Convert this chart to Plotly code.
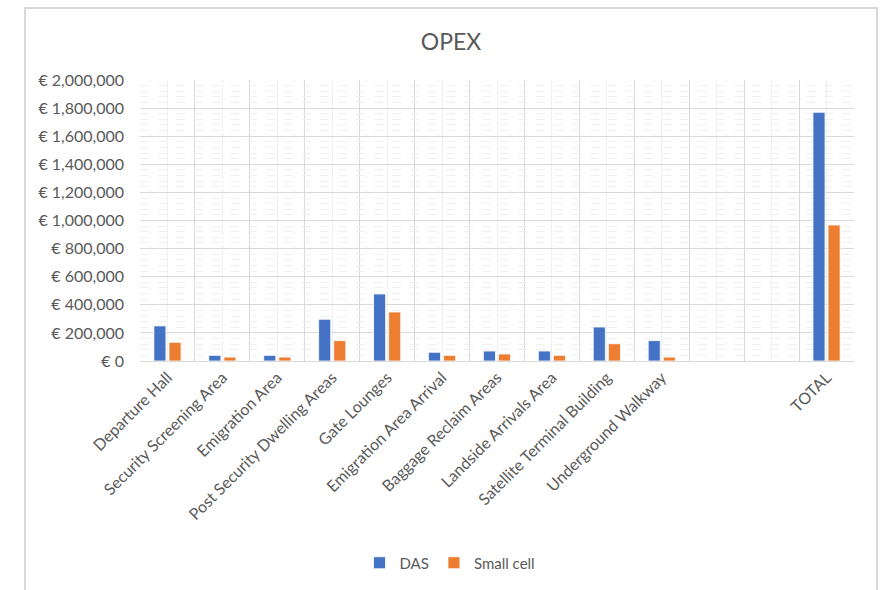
import plotly.graph_objects as go

categories = ["Departure Hall", "Security Screening Area", "Emigration Area",
              "Post Security Dwelling Areas", "Gate Lounges", "Emigration Area Arrival",
              "Baggage Reclaim Areas", "Landside Arrivals Area", "Satellite Terminal Building",
              "Underground Walkway", "", "", "TOTAL"]
das = [250000, 40000, 40000, 297000, 477000, 62000, 71000, 71000, 242000, 145000, None, None, 1770000]
small_cell = [133000, 28000, 28000, 145000, 349000, 40000, 50000, 40000, 123000, 28000, None, None, 968000]
series_names = ["DAS", "Small cell"]
colors = ["#4472C4", "#ED7D31"]

idx = list(range(len(categories)))
font_fam = "Lato, 'Open Sans', sans-serif"
txt = "#595959"

fig = go.Figure()
for name, vals, col in zip(series_names, [das, small_cell], colors):
    fig.add_trace(go.Bar(x=idx, y=vals, name=name, marker=dict(color=col, line=dict(color="white", width=0.8))))

W, H = 882, 590
L, R, T, B = 140, 28, 80, 229
pw, ph = W - L - R, H - T - B

def fx(px):
    return (px - L) / pw

def fy(py):
    return (H - B - py) / ph

fig.update_layout(
    width=W, height=H,
    margin=dict(l=L, r=R, t=T, b=B, autoexpand=False),
    paper_bgcolor="white", plot_bgcolor="white",
    font=dict(family=font_fam, color=txt, size=15),
    title=dict(text="OPEX", x=451 / W, xref="container", xanchor="center",
               y=1 - 42 / H, yref="container", yanchor="middle",
               font=dict(size=23, color=txt, family=font_fam)),
    barmode="group", bargap=0.45, bargroupgap=0.2,
    showlegend=True,
    legend=dict(orientation="h", x=fx(450), xref="paper", xanchor="center",
                y=fy(563), yref="paper", yanchor="middle", font=dict(size=15, color=txt),
                itemwidth=30, tracegroupgap=0),
    xaxis=dict(range=[-0.5, len(categories) - 0.5], tickmode="array", tickvals=idx,
               ticktext=categories, tickangle=-45, showgrid=True, gridcolor="#f0f0f0",
               gridwidth=1, zeroline=False, showline=True, linecolor="#d9d9d9", linewidth=1,
               ticks="", tickfont=dict(size=16, color=txt), automargin=False,
               minor=dict(tickmode="linear", tick0=0.5, dtick=1, showgrid=True,
                          gridcolor="#d9d9d9", gridwidth=1)),
    yaxis=dict(range=[0, 2000000], dtick=200000, tickprefix="€ ", tickformat=",",
               showgrid=True, gridcolor="#d9d9d9", gridwidth=1, zeroline=False,
               showline=False, ticks="", tickfont=dict(size=16, color=txt), automargin=False,
               ticklabelstandoff=15,
               minor=dict(dtick=40000, showgrid=True, gridcolor="#f0f0f0", gridwidth=1,
                          griddash="dash")),
)

fig.add_shape(type="rect", xref="paper", yref="paper",
              x0=fx(25), x1=fx(877), y0=fy(600), y1=fy(8),
              line=dict(color="#d9d9d9", width=2), fillcolor="rgba(0,0,0,0)", layer="below")

fig.write_html("out.html")
